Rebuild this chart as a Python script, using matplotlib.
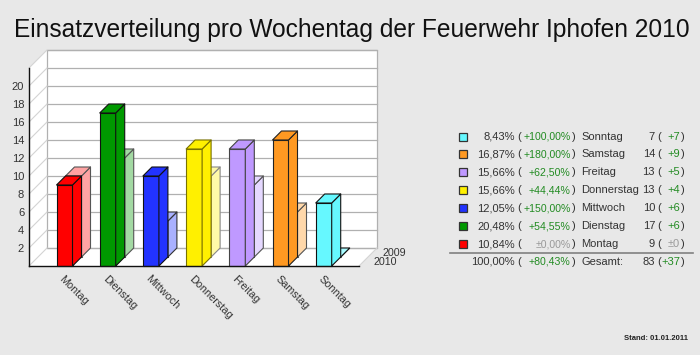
import matplotlib
matplotlib.use('Agg')
import matplotlib.pyplot as plt
from matplotlib.patches import Polygon, Rectangle

plt.rcParams['font.family'] = ['Liberation Sans', 'DejaVu Sans']

days = ['Montag', 'Dienstag', 'Mittwoch', 'Donnerstag', 'Freitag', 'Samstag', 'Sonntag']
values_2010 = [9, 17, 10, 13, 13, 14, 7]
values_2009 = [9, 11, 4, 9, 8, 5, 0]
colors_2010 = ['#ff0000', '#009900', '#2233ff', '#fff000', '#bf99ff', '#ff9922', '#66f8ff']
colors_2009 = ['#ffa3a3', '#a3d9a3', '#a9b1ff', '#fffaa8', '#e5d8ff', '#ffd8aa', '#a8fbff']
edges_2010 = ['#111111', '#111111', '#111111', '#7a7200', '#444444', '#222222', '#111111']
edges_2009 = ['#555555', '#555555', '#333333', '#888888', '#555555', '#555555', '#111111']

legend_days = ['Sonntag', 'Samstag', 'Freitag', 'Donnerstag', 'Mittwoch', 'Dienstag', 'Montag']
legend_colors = ['#66f8ff', '#ff9922', '#bf99ff', '#fff000', '#2233ff', '#009900', '#ff0000']
legend_share = ['8,43%', '16,87%', '15,66%', '15,66%', '12,05%', '20,48%', '10,84%']
legend_pct = ['+100,00%', '+180,00%', '+62,50%', '+44,44%', '+150,00%', '+54,55%', '±0,00%']
legend_count = ['7', '14', '13', '13', '10', '17', '9']
legend_diff = ['+7', '+9', '+5', '+4', '+6', '+6', '±0']

fig = plt.figure(figsize=(7, 3.55), dpi=100, facecolor='#e8e8e8')

# axes is the front plane of the 3d box
ax = fig.add_axes([29 / 700, 89 / 355, 330 / 700, 198 / 355])
x0, x1 = -0.822, 6.817
ax.set_xlim(x0, x1)
ax.set_ylim(0, 22)
ax.patch.set_visible(False)

# one depth row in data units
dx = 9 / 43.2
dy = 1.0
bw = 16 / 43.2

wall = '#b0b0b0'
side = '#d4d4d4'
ax.add_patch(Polygon([(x0, 0), (x0 + 2 * dx, 2 * dy), (x1 + 2 * dx, 2 * dy), (x1, 0)],
                     fc='white', ec='none', clip_on=False, zorder=1))
ax.add_patch(Polygon([(x0, 0), (x0 + 2 * dx, 2 * dy), (x0 + 2 * dx, 22 + 2 * dy), (x0, 22)],
                     fc='white', ec='none', clip_on=False, zorder=1))
ax.add_patch(Rectangle((x0 + 2 * dx, 2 * dy), x1 - x0, 22, fc='white', ec=wall, lw=0.9,
                       clip_on=False, zorder=1))
for v in range(0, 24, 2):
    ax.plot([x0 + 2 * dx, x1 + 2 * dx], [v + 2 * dy, v + 2 * dy], color=wall, lw=0.9,
            clip_on=False, zorder=1.5)
    ax.plot([x0, x0 + 2 * dx], [v, v + 2 * dy], color=side, lw=0.8, clip_on=False, zorder=1.5)
ax.plot([x1, x1 + 2 * dx], [0, 2 * dy], color=side, lw=0.8, clip_on=False, zorder=1.5)


def bar3d(i, value, row, color, edge, z):
    left = i - bw / 2 + row * dx
    right = left + bw
    base = row * dy
    top = base + value
    faces = [
        [(left, base), (right, base), (right, top), (left, top)],
        [(right, base), (right + dx, base + dy), (right + dx, top + dy), (right, top)],
        [(left, top), (right, top), (right + dx, top + dy), (left + dx, top + dy)],
    ]
    for pts in faces:
        ax.add_patch(Polygon(pts, fc=color, ec=edge, lw=0.8, joinstyle='round',
                             clip_on=False, zorder=z))


for i in range(len(days)):
    bar3d(i, values_2009[i], 1, colors_2009[i], edges_2009[i], 2 + i * 0.01)
for i in range(len(days)):
    bar3d(i, values_2010[i], 0, colors_2010[i], edges_2010[i], 3 + i * 0.01)

for s in ['top', 'right']:
    ax.spines[s].set_visible(False)
for s in ['left', 'bottom']:
    ax.spines[s].set_color('#111111')
    ax.spines[s].set_linewidth(1.0)
    ax.spines[s].set_zorder(5)

ax.set_yticks(range(2, 22, 2))
ax.set_xticks(range(len(days)))
ax.set_xticklabels(days, rotation=-45, ha='left', rotation_mode='anchor')
ax.tick_params(axis='both', length=0, labelsize=8, labelcolor='#333333')
ax.tick_params(axis='y', pad=3.5)
ax.tick_params(axis='x', labelsize=7.8, pad=5.5)

# overlay in pixels for the text table
px = fig.add_axes([0, 0, 1, 1])
px.set_xlim(0, 700)
px.set_ylim(355, 0)
px.axis('off')
px.patch.set_visible(False)

px.text(351.5, 30, 'Einsatzverteilung pro Wochentag der Feuerwehr Iphofen 2010', ha='center',
        va='center', fontsize=17.66, color='#111111')
px.text(406, 253, '2009', ha='right', va='center', fontsize=7.7, color='#333333')
px.text(397, 262, '2010', ha='right', va='center', fontsize=7.7, color='#333333')

dark = '#333333'
green = '#228b22'
grey = '#999999'
row_h = 17.95
for k in range(len(legend_days)):
    y = 136.5 + k * row_h
    px.add_patch(Rectangle((459, y - 4), 8, 8, fc=legend_colors[k], ec='#333333', lw=0.9))
    c = grey if legend_pct[k].startswith('±') else green
    px.text(515, y, legend_share[k], ha='right', va='center', fontsize=8, color=dark)
    px.text(517, y, '(', ha='left', va='center', fontsize=8, color=dark)
    px.text(570.5, y, legend_pct[k], ha='right', va='center', fontsize=7.6, color=c)
    px.text(572, y, ')', ha='left', va='center', fontsize=8, color=dark)
    px.text(581, y, legend_days[k], ha='left', va='center', fontsize=8, color=dark)
    px.text(655, y, legend_count[k], ha='right', va='center', fontsize=8, color=dark)
    px.text(657, y, '(', ha='left', va='center', fontsize=8, color=dark)
    px.text(680, y, legend_diff[k], ha='right', va='center', fontsize=8, color=c)
    px.text(681, y, ')', ha='left', va='center', fontsize=8, color=dark)

px.plot([450, 693], [252.5, 252.5], color='#808080', lw=1.2)
y = 262
px.text(515, y, '100,00%', ha='right', va='center', fontsize=8, color=dark)
px.text(517, y, '(', ha='left', va='center', fontsize=8, color=dark)
px.text(570.5, y, '+80,43%', ha='right', va='center', fontsize=7.6, color=green)
px.text(572, y, ')', ha='left', va='center', fontsize=8, color=dark)
px.text(581, y, 'Gesamt:', ha='left', va='center', fontsize=8, color=dark)
px.text(655, y, '83', ha='right', va='center', fontsize=8, color=dark)
px.text(657, y, '(', ha='left', va='center', fontsize=8, color=dark)
px.text(680, y, '+37', ha='right', va='center', fontsize=8, color=green)
px.text(681, y, ')', ha='left', va='center', fontsize=8, color=dark)

px.text(688, 338, 'Stand: 01.01.2011', ha='right', va='center', fontsize=5.5, fontweight='bold',
        color='#222222')

fig.savefig('out.png', dpi=100, facecolor=fig.get_facecolor())
